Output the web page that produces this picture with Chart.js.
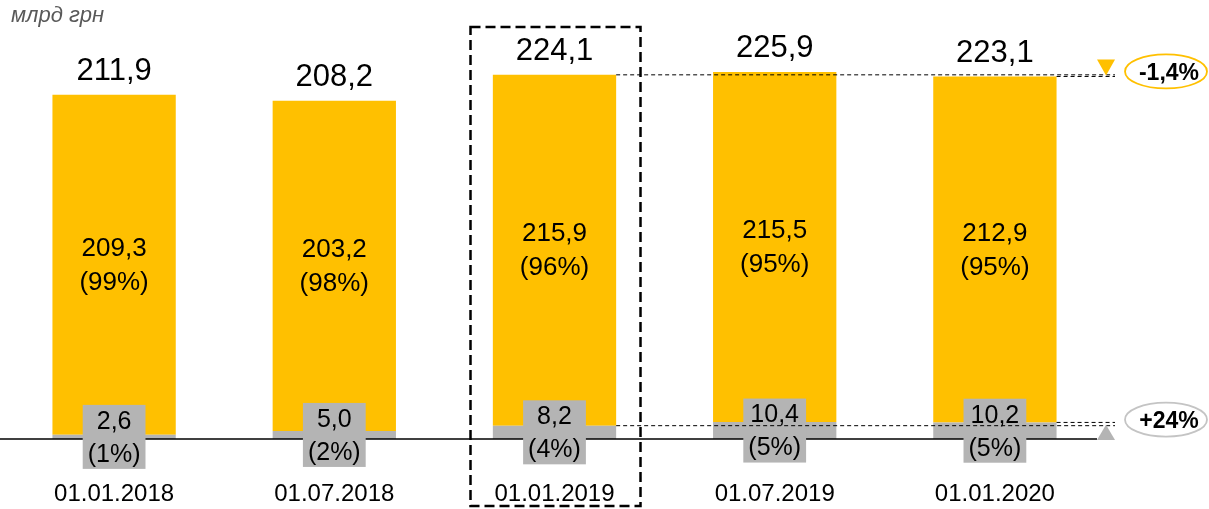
<!DOCTYPE html>
<html lang="uk">
<head>
<meta charset="UTF-8" />
<title>млрд грн</title>
<script src="https://cdn.jsdelivr.net/npm/chart.js"></script>
<style>
  html, body { margin: 0; padding: 0; background: #fff; }
  #wrap { position: relative; width: 1209px; height: 509px; }
</style>
</head>
<body>
<div id="wrap"><canvas id="chart"></canvas></div>
<script>
  // data
  const categories = ['01.01.2018', '01.07.2018', '01.01.2019', '01.07.2019', '01.01.2020'];
  const greyValues = [2.6, 5.0, 8.2, 10.4, 10.2];
  const yellowValues = [209.3, 203.2, 215.9, 215.5, 212.9];
  const totals = [211.9, 208.2, 224.1, 225.9, 223.1];
  const greyShares = [1, 2, 4, 5, 5];
  const yellowShares = [99, 98, 96, 95, 95];
  const changeTop = '-1,4%';
  const changeBottom = '+24%';
  const highlightIndex = 2;

  const YELLOW = '#FFC000';
  const GREY = '#B4B4B4';
  const FONT = '"Liberation Sans", Arial, sans-serif';

  const fmt = v => v.toFixed(1).replace('.', ',');

  const labelsPlugin = {
    id: 'labels',
    afterDatasetsDraw(chart) {
      const ctx = chart.ctx;
      const x = chart.scales.x, y = chart.scales.y;
      const area = chart.chartArea;
      const greyMeta = chart.getDatasetMeta(0);
      const yellowMeta = chart.getDatasetMeta(1);
      const base = y.getPixelForValue(0);
      ctx.save();

      // baseline
      ctx.strokeStyle = '#000';
      ctx.lineWidth = 1.5;
      ctx.beginPath();
      ctx.moveTo(0, base);
      ctx.lineTo(area.right - 8, base);
      ctx.stroke();

      ctx.textAlign = 'center';
      ctx.textBaseline = 'middle';
      categories.forEach((c, i) => {
        const gb = greyMeta.data[i], yb = yellowMeta.data[i];
        // total
        ctx.fillStyle = '#000';
        ctx.font = '31px ' + FONT;
        ctx.fillText(fmt(totals[i]), yb.x, yb.y - 23);
        // yellow segment label
        const ym = (yb.y + yb.base) / 2;
        ctx.font = '26px ' + FONT;
        ctx.fillText(fmt(yellowValues[i]), yb.x, ym - 16);
        ctx.fillText('(' + yellowShares[i] + '%)', yb.x, ym + 18);
        // grey label box
        const gm = (gb.y + gb.base) / 2;
        const t1 = fmt(greyValues[i]), t2 = '(' + greyShares[i] + '%)';
        ctx.font = '25px ' + FONT;
        const w = Math.max(ctx.measureText(t1).width, ctx.measureText(t2).width) + 10;
        ctx.fillStyle = GREY;
        ctx.fillRect(gb.x - w / 2, gm - 32, w, 64);
        ctx.fillStyle = '#000';
        ctx.fillText(t1, gb.x, gm - 15);
        ctx.fillText(t2, gb.x, gm + 18);
      });

      // dashed highlight box
      const hx = x.getPixelForValue(highlightIndex);
      ctx.setLineDash([10, 5]);
      ctx.lineWidth = 2.5;
      ctx.strokeStyle = '#000';
      ctx.strokeRect(hx - 84, 27, 170, 479);

      // reference dashed lines
      ctx.setLineDash([4, 3]);
      ctx.lineWidth = 1;
      const hYellow = yellowMeta.data[highlightIndex], hGrey = greyMeta.data[highlightIndex];
      const last = categories.length - 1;
      const lYellow = yellowMeta.data[last], lGrey = greyMeta.data[last];
      const endX = area.right + 10;
      const lines = [
        [hYellow.x + hYellow.width / 2, hYellow.y],
        [lYellow.x + lYellow.width / 2, lYellow.y],
        [hGrey.x + hGrey.width / 2, hGrey.y],
        [lGrey.x + lGrey.width / 2, lGrey.y]
      ];
      lines.forEach(([sx, sy]) => {
        ctx.beginPath();
        ctx.moveTo(sx, sy);
        ctx.lineTo(endX, sy);
        ctx.stroke();
      });
      ctx.setLineDash([]);

      // triangles
      const tx = area.right + 1;
      ctx.fillStyle = YELLOW;
      ctx.beginPath();
      ctx.moveTo(tx - 9, lYellow.y - 17);
      ctx.lineTo(tx + 9, lYellow.y - 17);
      ctx.lineTo(tx, lYellow.y - 1);
      ctx.closePath();
      ctx.fill();
      ctx.fillStyle = GREY;
      ctx.beginPath();
      ctx.moveTo(tx - 9, base + 1);
      ctx.lineTo(tx + 9, base + 1);
      ctx.lineTo(tx, hGrey.y - 1);
      ctx.closePath();
      ctx.fill();

      // change ellipses
      const ex = tx + 60;
      [[lYellow.y - 5, YELLOW, changeTop], [hGrey.y - 6, '#C4C4C4', changeBottom]].forEach(([ey, col, txt]) => {
        ctx.beginPath();
        ctx.ellipse(ex, ey, 41, 17, 0, 0, Math.PI * 2);
        ctx.fillStyle = '#fff';
        ctx.fill();
        ctx.lineWidth = 1.8;
        ctx.strokeStyle = col;
        ctx.stroke();
        ctx.fillStyle = '#000';
        ctx.font = 'bold 23px ' + FONT;
        ctx.fillText(txt, ex + 3, ey + 2);
      });

      // unit caption
      ctx.textAlign = 'left';
      ctx.fillStyle = '#595959';
      ctx.font = 'italic 22px ' + FONT;
      ctx.fillText('млрд грн', 11, 16);
      ctx.restore();
    }
  };

  new Chart(document.getElementById('chart'), {
    type: 'bar',
    data: {
      labels: categories,
      datasets: [
        { label: 'grey', data: greyValues, backgroundColor: GREY },
        { label: 'yellow', data: yellowValues, backgroundColor: YELLOW }
      ]
    },
    options: {
      responsive: true,
      maintainAspectRatio: false,
      animation: false,
      events: [],
      layout: { padding: { left: 4, right: 104, top: 49, bottom: 0 } },
      datasets: { bar: { barPercentage: 0.56, categoryPercentage: 1 } },
      plugins: { legend: { display: false }, tooltip: { enabled: false } },
      scales: {
        x: {
          stacked: true,
          grid: { display: false, drawTicks: false },
          border: { display: false },
          ticks: { color: '#000', font: { size: 24, family: FONT }, padding: 41 },
          afterFit: axis => { axis.height = 70; }
        },
        y: { stacked: true, display: false, min: 0, max: 240 }
      }
    },
    plugins: [labelsPlugin]
  });
</script>
</body>
</html>
